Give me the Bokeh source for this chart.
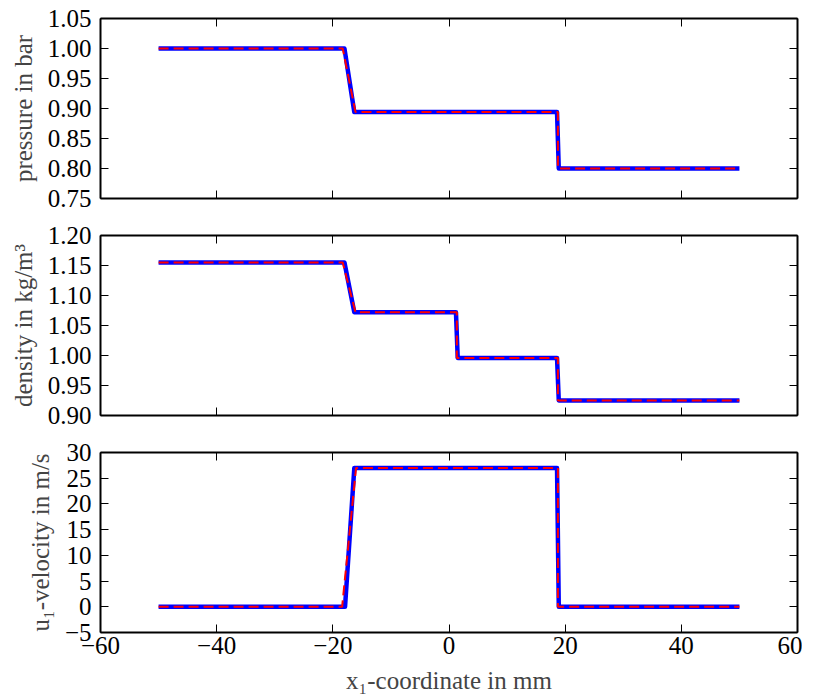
from bokeh.plotting import figure
from bokeh.layouts import column
from bokeh.models import LinearAxis, FixedTicker, Range1d
from bokeh.embed import file_html
from bokeh.resources import INLINE

# ---- data ----
x_ticks = [-60, -40, -20, 0, 20, 40, 60]

# pressure in bar
p_x_num = [-50, -18.0, -16.3, 18.6, 18.9, 50]
p_num = [1.000, 1.000, 0.894, 0.894, 0.800, 0.800]
p_x_ex = [-50, -18.3, -16.1, 18.75, 18.75, 50]
p_ex = [1.000, 1.000, 0.894, 0.894, 0.800, 0.800]
p_ticks = [0.75, 0.80, 0.85, 0.90, 0.95, 1.00, 1.05]

# density in kg/m^3
r_x_num = [-50, -18.0, -16.3, 1.2, 1.5, 18.6, 18.9, 50]
r_num = [1.155, 1.155, 1.072, 1.072, 0.996, 0.996, 0.925, 0.925]
r_x_ex = [-50, -18.3, -16.1, 1.35, 1.35, 18.75, 18.75, 50]
r_ex = [1.155, 1.155, 1.072, 1.072, 0.996, 0.996, 0.925, 0.925]
r_ticks = [0.90, 0.95, 1.00, 1.05, 1.10, 1.15, 1.20]

# u1-velocity in m/s
u_x_num = [-50, -17.9, -16.3, 18.6, 18.9, 50]
u_num = [0.0, 0.0, 27.0, 27.0, 0.0, 0.0]
u_x_ex = [-50, -18.4, -16.0, 18.75, 18.75, 50]
u_ex = [0.0, 0.0, 27.0, 27.0, 0.0, 0.0]
u_ticks = [-5, 0, 5, 10, 15, 20, 25, 30]

TICK_FONT = "Liberation Serif"
LABEL_FONT = "Liberation Serif"


def fmt(v, nd):
    s = f"{v:.{nd}f}"
    return s.replace("-", "\u2212")


def style_axis(ax, ticks, labels, show_labels):
    ax.ticker = FixedTicker(ticks=ticks)
    ax.major_tick_in = 8
    ax.major_tick_out = 0
    ax.minor_tick_in = 0
    ax.minor_tick_out = 0
    ax.major_tick_line_color = "black"
    ax.major_tick_line_width = 1
    ax.axis_line_color = "black"
    ax.axis_line_width = 2
    ax.major_label_text_font = TICK_FONT
    ax.major_label_text_color = "black"
    if show_labels:
        ax.major_label_overrides = labels
        ax.major_label_text_font_size = "25px"
    else:
        ax.major_label_overrides = {t: "" for t in ticks}
        ax.major_label_text_font_size = "1px"
        ax.major_label_standoff = 0


def make(ylo, yhi, yticks, ynd, ylabel, top, bottom, xlabel=None):
    p = figure(frame_width=697, frame_height=180,
               x_range=Range1d(-60, 60), y_range=Range1d(ylo, yhi),
               output_backend="svg", toolbar_location=None,
               min_border_left=100, min_border_right=5,
               min_border_top=top, min_border_bottom=bottom)
    p.xgrid.visible = False
    p.ygrid.visible = False
    p.outline_line_color = None
    p.background_fill_color = "white"
    p.border_fill_color = "white"

    xlabels = {t: fmt(t, 0) for t in x_ticks}
    ylabels = {t: fmt(t, ynd) for t in yticks}

    style_axis(p.xaxis[0], x_ticks, xlabels, xlabel is not None)
    style_axis(p.yaxis[0], yticks, ylabels, True)
    p.yaxis[0].major_label_standoff = 9
    p.yaxis[0].axis_label = ylabel
    p.yaxis[0].axis_label_text_font = LABEL_FONT
    p.yaxis[0].axis_label_text_font_size = "25px"
    p.yaxis[0].axis_label_text_font_style = "normal"
    p.yaxis[0].axis_label_standoff = 8
    if xlabel is not None:
        p.xaxis[0].major_label_standoff = 4
        p.xaxis[0].axis_label = xlabel
        p.xaxis[0].axis_label_text_font = LABEL_FONT
        p.xaxis[0].axis_label_text_font_size = "25px"
        p.xaxis[0].axis_label_text_font_style = "normal"
        p.xaxis[0].axis_label_standoff = 10

    ra = LinearAxis()
    style_axis(ra, yticks, ylabels, False)
    p.add_layout(ra, "right")
    ta = LinearAxis()
    style_axis(ta, x_ticks, xlabels, False)
    p.add_layout(ta, "above")
    return p


p1 = make(0.75, 1.05, p_ticks, 2, "pressure in bar", 18, 17)
p1.line(p_x_num, p_num, line_color="#0000ff", line_width=4.5, line_join="round")
p1.line(p_x_ex, p_ex, line_color="#ff0000", line_width=2, line_dash="10 5")

p2 = make(0.90, 1.20, r_ticks, 2, "density in kg/m\u00b3", 20, 17)
p2.line(r_x_num, r_num, line_color="#0000ff", line_width=4.5, line_join="round")
p2.line(r_x_ex, r_ex, line_color="#ff0000", line_width=2, line_dash="10 5")

p3 = make(-5, 30, u_ticks, 0, "u\u2081-velocity in m/s", 20, 60,
          xlabel="x\u2081-coordinate in mm")
p3.line(u_x_num, u_num, line_color="#0000ff", line_width=4.5, line_join="round")
p3.line(u_x_ex, u_ex, line_color="#ff0000", line_width=2, line_dash="10 5")

layout = column(p1, p2, p3, spacing=0)
open("out.html", "w").write(file_html(layout, INLINE))
